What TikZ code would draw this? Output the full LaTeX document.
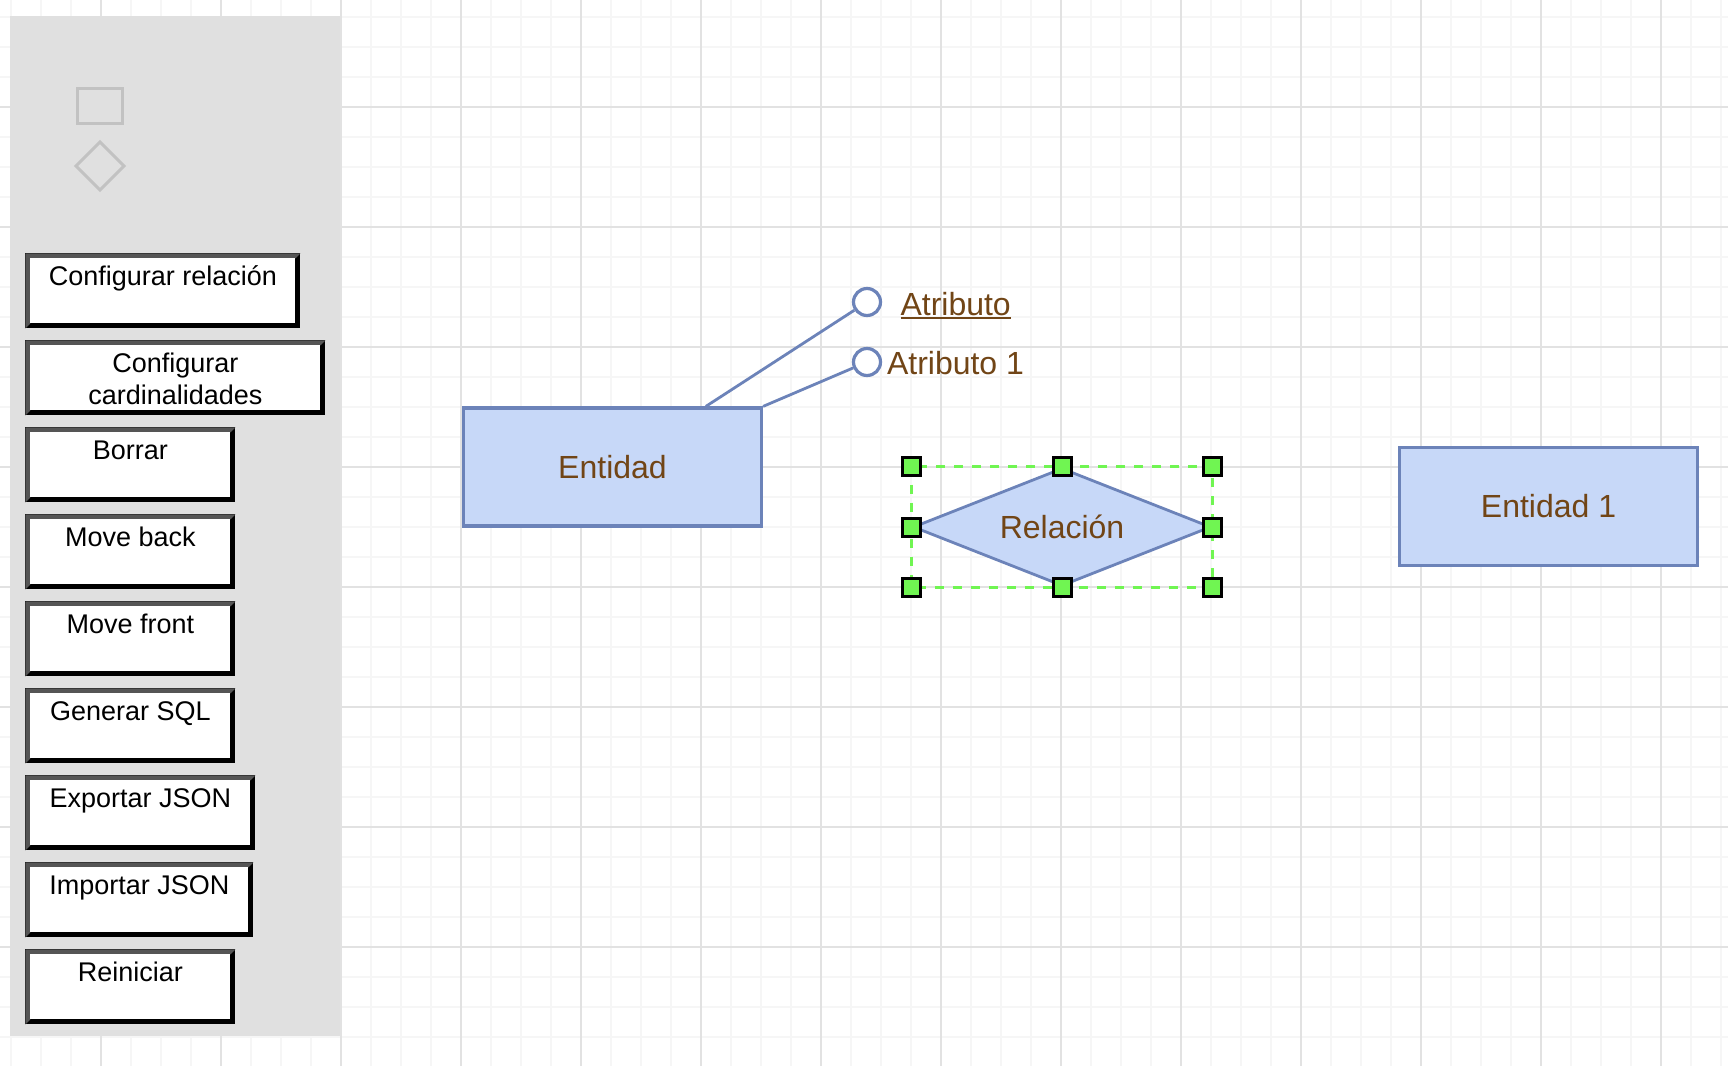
\documentclass[tikz,border=0pt]{standalone}
\usepackage{fontspec}
\setmainfont{Liberation Sans}
\usepackage{xcolor}
\usetikzlibrary{shapes,positioning,calc}

\definecolor{panelgray}{HTML}{E0E0E0}
\definecolor{griddark}{HTML}{E2E2E2}
\definecolor{gridlight}{HTML}{F6F6F6}
\definecolor{icongray}{HTML}{C2C2C2}
\definecolor{btngray}{HTML}{555555}
\definecolor{entfill}{HTML}{C7D8F8}
\definecolor{entstroke}{HTML}{6C83B9}
\definecolor{txtbrown}{HTML}{714516}
\definecolor{selgreen}{HTML}{70F552}

\newcommand{\subrayado}[1]{\setbox0\hbox{#1}\rlap{\raisebox{-2pt}{\rule{\wd0}{1pt}}}\box0}

\tikzset{
    gridminor/.style={draw=gridlight, line width=1pt},
    gridmajor/.style={draw=griddark, line width=1pt},
    icon/.style={draw=icongray, line width=1.5pt},
    btn/.style={rectangle, fill=black, inner sep=0pt, anchor=north west, minimum height=37.5pt,
        path picture={
            \fill[btngray] (path picture bounding box.north west) -- (path picture bounding box.north east)
                -- ++(-2.5pt,-2.5pt) -| ($(path picture bounding box.south west)+(2.5pt,2.5pt)$)
                -- (path picture bounding box.south west) -- cycle;
            \fill[white] ($(path picture bounding box.north west)+(2.5pt,-2.5pt)$) rectangle ($(path picture bounding box.south east)+(-2.5pt,2.5pt)$);
        }},
    btntxt/.style={anchor=base, inner sep=0pt, font=\fontsize{13.5}{16}\selectfont},
    entity/.style={rectangle, draw=entstroke, fill=entfill, line width=1.6pt, minimum width=149pt, minimum height=59pt,
        text=txtbrown, font=\fontsize{16}{19}\selectfont},
    relation/.style={diamond, draw=entstroke, fill=entfill, line width=1.4pt, aspect=2.5, inner sep=0pt,
        minimum width=149pt, minimum height=59pt, text=txtbrown, font=\fontsize{16}{19}\selectfont},
    attr/.style={circle, draw=entstroke, fill=white, line width=1.6pt, minimum size=13.5pt, inner sep=0pt},
    attrtxt/.style={anchor=base west, inner sep=0pt, text=txtbrown, font=\fontsize{16}{19}\selectfont},
    link/.style={draw=entstroke, line width=1.4pt},
    selbox/.style={draw=selgreen, line width=1.2pt, dash pattern=on 4.5pt off 4.5pt},
    handle/.style={rectangle, draw=black, fill=selgreen, line width=1.5pt, minimum size=9pt, inner sep=0pt}
}

\begin{document}
\begin{tikzpicture}[x=0.5pt,y=-0.5pt]
    \useasboundingbox[fill=white] (0,0) rectangle (1728,1066);

    % grid
    \foreach \x in {10.7,40.7,...,1728} \draw[gridminor] (\x,0) -- (\x,1066);
    \foreach \y in {16.7,46.7,...,1066} \draw[gridminor] (0,\y) -- (1728,\y);
    \foreach \x in {100.7,220.7,...,1728} \draw[gridmajor] (\x,0) -- (\x,1066);
    \foreach \y in {106.7,226.7,...,1066} \draw[gridmajor] (0,\y) -- (1728,\y);

    % panel
    \fill[panelgray] (10,16) rectangle (340,1036);
    \draw[icon] (77.5,88.5) rectangle (122.5,123.5);
    \draw[icon] (100,142) -- (124,166) -- (100,190) -- (76,166) -- cycle;

    \foreach \y/\w/\nm/\lbl in {253/275/rel/{Configurar relación},
        340/300/card/{\begin{tabular}[t]{@{}c@{}}Configurar\\cardinalidades\end{tabular}},
        427/210/borrar/{Borrar}, 514/210/back/{Move back}, 601/210/front/{Move front},
        688/210/sql/{Generar SQL}, 775/230/exp/{Exportar JSON}, 862/228/imp/{Importar JSON},
        949/210/reset/{Reiniciar}}
    {
        \node[btn, minimum width=\w*0.5pt] (b\nm) at (25,\y) {};
        \node[btntxt] (t\nm) at ($(b\nm.north)+(0,32)$) {\lbl};
    }

    % diagram
    \node[entity] (ent) at (612.5,467) {Entidad};
    \node[entity] (ent1) at (1548.5,506.5) {Entidad 1};
    \node[relation] (rel) at (1062,527) {Relación};

    \node[attr] (atr1) at (867,302) {};
    \node[attr] (atr2) at (867,362) {};
    \node[attrtxt] (l1) at ($(atr1.east)+(18,13)$) {\subrayado{Atributo}};
    \node[attrtxt] (l2) at ($(atr2.east)+(4.5,12)$) {Atributo 1};
    \draw[link] (ent.33) -- (atr1);
    \draw[link] (ent.north east) -- (atr2);

    % selection
    \draw[selbox] (rel.west |- rel.north) rectangle (rel.east |- rel.south);
    \foreach \p [count=\i] in {(rel.west |- rel.north), (rel.north), (rel.east |- rel.north), (rel.west),
        (rel.east), (rel.west |- rel.south), (rel.south), (rel.east |- rel.south)}
        \node[handle] (h\i) at \p {};
\end{tikzpicture}
\end{document}
